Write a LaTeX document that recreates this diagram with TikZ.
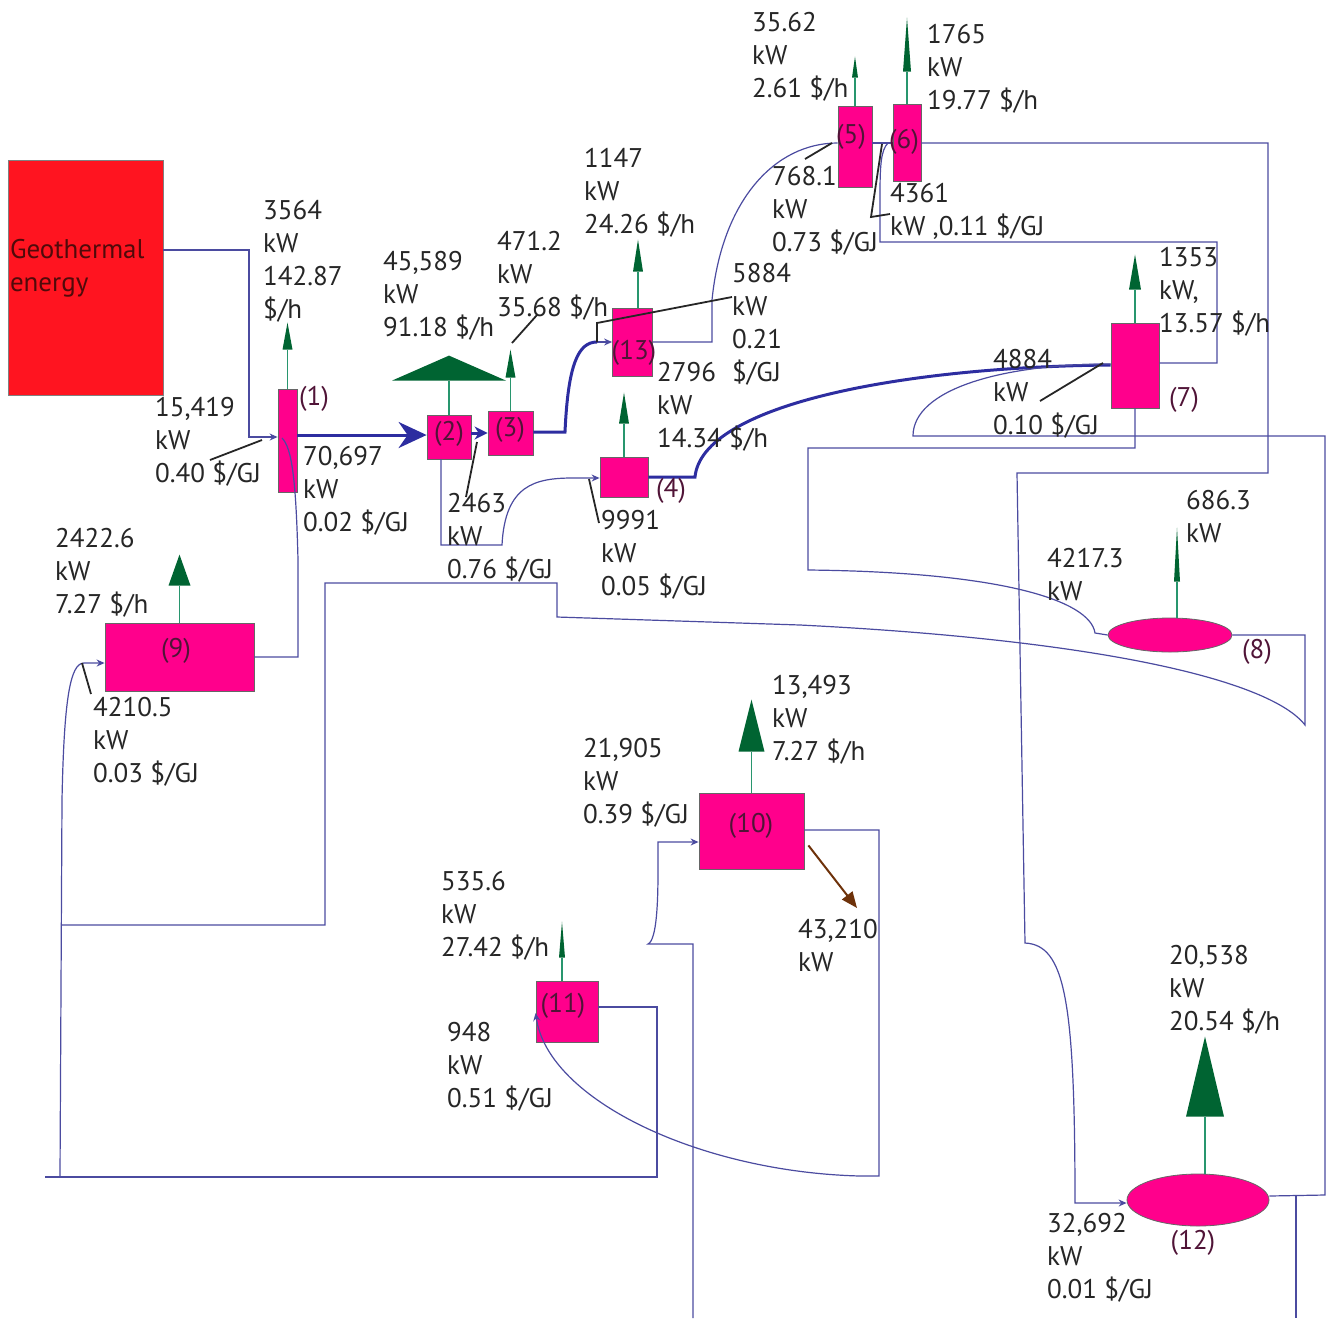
\documentclass[tikz,border=0pt]{standalone}
\usepackage{fontspec}
\setmainfont{PT Sans}
\usetikzlibrary{arrows.meta,calc,shapes.geometric}

\definecolor{hotpink}{RGB}{255,0,140}
\definecolor{geored}{RGB}{255,20,32}
\definecolor{geotext}{RGB}{80,10,10}
\definecolor{flowblue}{RGB}{75,75,160}
\definecolor{mainblue}{RGB}{45,45,160}
\definecolor{stemgreen}{RGB}{40,150,110}
\definecolor{headgreen}{RGB}{0,100,50}
\definecolor{heatbrown}{RGB}{110,50,10}
\definecolor{tagdark}{RGB}{80,20,55}

\tikzset{
  comp/.style={rectangle, draw=black!60, line width=0.8pt, fill=hotpink, inner sep=0pt},
  tank/.style={ellipse, draw=black!60, line width=0.8pt, fill=hotpink, inner sep=0pt},
  info/.style={align=left, anchor=north west, inner sep=0pt, text=black!85},
  tag/.style={inner sep=0pt, text=tagdark},
  flow/.style={draw=flowblue, line width=1.2pt},
  mainflow/.style={draw=mainblue, line width=3pt},
  leader/.style={draw=black!85, line width=1.8pt},
  stemline/.style={draw=stemgreen, line width=1.5pt},
  headfill/.style={fill=headgreen},
  heat/.style={draw=heatbrown, line width=2pt, -{Triangle[length=16pt,width=13pt]}},
  tip/.style={-{Stealth[length=8pt,width=7pt]}}
}

% product stream: stem from #1, stem length #2, head length #3, half width #4
\newcommand{\outflow}[4]{%
  \draw[stemline] (#1) -- ++(0,-#2) coordinate (headbase);
  \fill[headfill] ([xshift=-#4pt]headbase) -- ([xshift=#4pt]headbase) -- ([yshift=#3pt]headbase) -- cycle;}

\begin{document}
\begin{tikzpicture}[x=1pt, y=-1pt, font=\fontsize{27}{33}\selectfont]
\useasboundingbox (0,0) rectangle (1328,1318);

% components
\node[rectangle, fill=geored, draw=black!50, minimum width=155pt, minimum height=235pt] (geo) at (85.5,277.5) {};
\node[info, anchor=west, text=geotext] (geotxt) at ($(geo.west)+(2,-9)$) {Geothermal\\energy};
\node[comp, minimum width=19pt, minimum height=103pt] (c1) at (287.5,440.5) {};
\node[comp, minimum width=44pt, minimum height=44pt] (c2) at (449,437) {};
\node[comp, minimum width=45pt, minimum height=44pt] (c3) at (510.5,433) {};
\node[comp, minimum width=40pt, minimum height=68pt] (c13) at (632.5,342) {};
\node[comp, minimum width=48pt, minimum height=40pt] (c4) at (624,477) {};
\node[comp, minimum width=34pt, minimum height=81pt] (c5) at (855,146.5) {};
\node[comp, minimum width=28pt, minimum height=77pt] (c6) at (907,142.5) {};
\node[comp, minimum width=48pt, minimum height=85pt] (c7) at (1135,365.5) {};
\node[tank, minimum width=124pt, minimum height=34pt] (c8) at (1170,635) {};
\node[comp, minimum width=149pt, minimum height=68pt] (c9) at (179.5,657) {};
\node[comp, minimum width=105pt, minimum height=76pt] (c10) at (751.5,831) {};
\node[comp, minimum width=62pt, minimum height=61pt] (c11) at (567,1011.5) {};
\node[tank, minimum width=142pt, minimum height=52pt] (c12) at (1198,1200) {};

% product streams
\outflow{c1.north}{39}{27}{5}
\outflow{c2.north}{34}{25}{57}
\outflow{c3.north}{33}{28}{5}
\outflow{$(c13.north)+(5.5,0)$}{36}{32}{5}
\outflow{c4.north}{33}{31}{5}
\outflow{c5.north}{28}{21}{3}
\outflow{c6.north}{32}{54}{4}
\outflow{c7.north}{33}{35}{6}
\outflow{$(c8.north)+(7,0)$}{36}{54}{3}
\outflow{c9.north}{37}{31}{11}
\outflow{c10.north}{41}{52}{13}
\outflow{$(c11.north)+(-5,0)$}{23}{36}{3}
\outflow{$(c12.north)+(7,0)$}{57}{80}{19}

% free ends
\coordinate (in10) at (693,1318);
\coordinate (out12) at (1296,1318);
\coordinate (ret) at (45,1177);
\coordinate (heatout) at (857,908);

% streams
\draw[flow, tip] (geo.east |- 0,250) -| (249,437) -- (c1.west |- 0,437);
\draw[mainflow, -{Stealth[length=28pt,width=26pt,inset=9pt]}] (c1.east |- 0,435) -- (c2.west |- 0,435);
\draw[mainflow, -{Stealth[length=13pt,width=13pt,inset=4pt]}] (c2.east |- 0,433) -- (c3.west |- 0,433);
\draw[mainflow] (c3.east |- 0,432) -- (565,432) .. controls (568,365) and (578,342) .. (597,342) coordinate (j13);
\draw[flow, tip] (j13) -- (c13.west |- j13);
\draw[flow] (c13.east) -- (712,342) -- (712,300) .. controls (722,200) and (775,143) .. (c5.west |- 0,143);
\draw[flow] (c5.east |- 0,143) -- (c6.west |- 0,143);
\draw[flow] (888,143) .. controls (881,150) and (880,165) .. (880,195) |- (1217,242) |- (c7.east |- 0,363);
\draw[flow, tip] (c6.east |- 0,143) -| (1268,473) -- (1017,473) -- (1025,943) .. controls (1065,945) and (1075,1000) .. (1075,1203) -- (c12.west |- 0,1203);
\draw[mainflow] (c4.east) -- (695,477) .. controls (702,405) and (900,367) .. (c7.west |- 0,365);
\draw[flow] (c7.west |- 0,364) .. controls (1000,364) and (913,390) .. (913,436) -- (1325,436) -- (1325,1195) -- (c12.east |- 0,1196);
\draw[flow] (1296,1196) -- (out12);
\draw[flow] (c7.south) |- (808,448) -- (808,570) .. controls (1000,572) and (1090,600) .. (1095,633) -- (c8.west);
\draw[flow] (c8.east) -- (1305,635) -- (1305,725) .. controls (1270,680) and (1100,640) .. (800,625) -- (557,617) -- (557,583) -| (325,925) -- (62,925);
\draw[flow] (c9.east) -| (298,560) .. controls (296,480) and (292,448) .. (282,438);
\draw[flow, tip] ([xshift=-8pt]c2.south) |- (502,545) .. controls (505,485) and (535,478) .. (573,478) -- (c4.west |- 0,478);
\draw[flow, tip] (in10) -- (693,944) -- (648,944) .. controls (657,940) and (658,900) .. (658,870) |- (c10.west |- 0,842);
\draw[flow, tip] (c10.east |- 0,830) -| (879,1176) -- (860,1176) .. controls (700,1172) and (548,1100) .. (c11.west |- 0,1013);
\draw[flow] (c11.east |- 0,1007) -| (657,1177) -- (ret);
\draw[flow, tip] (60,1177) -- (62,800) .. controls (64,700) and (70,663) .. (84,663) -- (c9.west |- 0,663);
\draw[heat] ($(c10.south east)+(4,-24)$) -- (heatout);

% leaders
\draw[leader] (210,460) -- (262,440);
\draw[leader] (466,497) -- (477,442);
\draw[leader] (512,343) -- (537,315);
\draw[leader] (597,342) -- (597,323) -- (732,297);
\draw[leader] (589,479) -- (599,523);
\draw[leader] (832,143) -- (805,159);
\draw[leader] (882,144) -- (871,217) -- (890,214);
\draw[leader] (1103,363) -- (1040,401);
\draw[leader] (82,663) -- (91,694);

% tags
\node[tag] (t1) at (314,399) {(1)};
\node[tag] (t2) at (449,434) {(2)};
\node[tag] (t3) at (510,430) {(3)};
\node[tag] (t13) at (634,353) {(13)};
\node[tag] (t4) at (671,491) {(4)};
\node[tag] (t5) at (851,137) {(5)};
\node[tag] (t6) at (904,142) {(6)};
\node[tag] (t7) at (1184,400) {(7)};
\node[tag] (t8) at (1257,652) {(8)};
\node[tag] (t9) at (176,651) {(9)};
\node[tag] (t10) at (751,826) {(10)};
\node[tag] (t11) at (563,1006) {(11)};
\node[tag] (t12) at (1193,1243) {(12)};

% stream values
\node[info] (v1out) at (263,200) {3564\\kW\\142.87\\\$/h};
\node[info] (v1in) at (155,397) {15,419\\kW\\0.40 \$/GJ};
\node[info] (v12) at (303,446) {70,697\\kW\\0.02 \$/GJ};
\node[info] (v2out) at (383,251) {45,589\\kW\\91.18 \$/h};
\node[info] (v3out) at (497,231) {471.2\\kW\\35.68 \$/h};
\node[info] (v13out) at (584,148) {1147\\kW\\24.26 \$/h};
\node[info] (v13in) at (732,263) {5884\\kW\\0.21\\\$/GJ};
\node[info] (v4out) at (657,362) {2796\\kW\\14.34 \$/h};
\node[info] (v24) at (447,493) {2463\\kW\\0.76 \$/GJ};
\node[info] (v4in) at (601,510) {9991\\kW\\0.05 \$/GJ};
\node[info] (v5out) at (752,12) {35.62\\kW\\2.61 \$/h};
\node[info] (v6out) at (927,24) {1765\\kW\\19.77 \$/h};
\node[info] (v5in) at (772,166) {768.1\\kW\\0.73 \$/GJ};
\node[info] (v6in) at (890,183) {4361\\kW ,0.11 \$/GJ};
\node[info] (v7out) at (1159,247) {1353\\kW,\\13.57 \$/h};
\node[info] (v7in) at (993,349) {4884\\kW\\0.10 \$/GJ};
\node[info] (v8out) at (1186,490) {686.3\\kW};
\node[info] (v8in) at (1047,548) {4217.3\\kW};
\node[info] (v9out) at (55,528) {2422.6\\kW\\7.27 \$/h};
\node[info] (v9in) at (93,697) {4210.5\\kW\\0.03 \$/GJ};
\node[info] (v10out) at (772,675) {13,493\\kW\\7.27 \$/h};
\node[info] (v10in) at (583,738) {21,905\\kW\\0.39 \$/GJ};
\node[info] (v10heat) at (798,919) {43,210\\kW};
\node[info] (v11out) at (441,871) {535.6\\kW\\27.42 \$/h};
\node[info] (v11in) at (447,1022) {948\\kW\\0.51 \$/GJ};
\node[info] (v12out) at (1169,945) {20,538\\kW\\20.54 \$/h};
\node[info] (v12in) at (1047,1213) {32,692\\kW\\0.01 \$/GJ};
\end{tikzpicture}
\end{document}
